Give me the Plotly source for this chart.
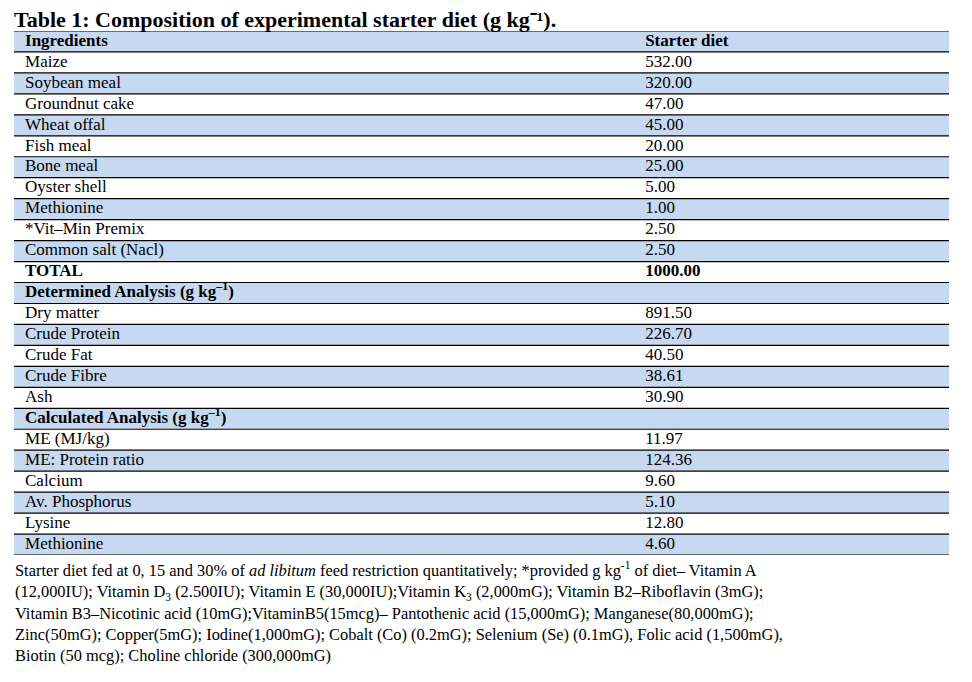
import plotly.graph_objects as go

# Datos de la tabla
ingredients = ["Maize", "Soybean meal", "Groundnut cake", "Wheat offal", "Fish meal",
               "Bone meal", "Oyster shell", "Methionine", "*Vit\u2013Min Premix", "Common salt (Nacl)"]
ingredient_amounts = ["532.00", "320.00", "47.00", "45.00", "20.00",
                      "25.00", "5.00", "1.00", "2.50", "2.50"]
total_label = "TOTAL"
total_amount = "1000.00"

determined_items = ["Dry matter", "Crude Protein", "Crude Fat", "Crude Fibre", "Ash"]
determined_values = ["891.50", "226.70", "40.50", "38.61", "30.90"]

calculated_items = ["ME (MJ/kg)", "ME: Protein ratio", "Calcium", "Av. Phosphorus", "Lysine", "Methionine"]
calculated_values = ["11.97", "124.36", "9.60", "5.10", "12.80", "4.60"]

header_labels = ["Ingredients", "Starter diet"]
title_text = "Table 1: Composition of experimental starter diet (g kg\u207b\u00b9)."
footnote_lines = [
    "Starter diet fed at 0, 15 and 30% of <i>ad libitum</i> feed restriction quantitatively; *provided g kg<sup>-1</sup> of diet\u2013 Vitamin A",
    "(12,000IU); Vitamin D<sub>3</sub> (2.500IU); Vitamin E (30,000IU);Vitamin K<sub>3</sub> (2,000mG); Vitamin B2\u2013Riboflavin (3mG);",
    "Vitamin B3\u2013Nicotinic acid (10mG);VitaminB5(15mcg)\u2013 Pantothenic acid (15,000mG); Manganese(80,000mG);",
    "Zinc(50mG); Copper(5mG); Iodine(1,000mG); Cobalt (Co) (0.2mG); Selenium (Se) (0.1mG), Folic acid (1,500mG),",
    "Biotin (50 mcg); Choline chloride (300,000mG)",
]

# Construir columnas
col_a = (["<b>" + header_labels[0] + "</b>"] + ingredients + ["<b>" + total_label + "</b>"]
         + ["<b>Determined Analysis (g kg<sup>\u20131</sup>)</b>"] + determined_items
         + ["<b>Calculated Analysis (g kg<sup>\u20131</sup>)</b>"] + calculated_items)
col_b = (["<b>" + header_labels[1] + "</b>"] + ingredient_amounts + ["<b>" + total_amount + "</b>"]
         + [""] + determined_values
         + [""] + calculated_values)
rows = list(range(len(col_a)))

BLUE = "#C6D9F0"
OFF = 8  # margen del body de la pagina html
W, H = 972 - OFF, 682 - OFF
FONT = "Liberation Serif"


def px(x):
    return (x - OFF) / W


def py(y):
    return 1 - (y - OFF) / H


fills = [BLUE if i % 2 == 0 else "white" for i in rows]

fig = go.Figure()
fig.add_trace(go.Bar(x=[1] * len(rows), y=rows, orientation="h", width=1, base=0,
                     marker=dict(color=fills, line=dict(width=0)), hoverinfo="skip"))
fig.add_trace(go.Scatter(x=[0.0118] * len(rows), y=rows, mode="text", text=col_a,
                         textposition="middle right", hoverinfo="skip",
                         textfont=dict(family=FONT, size=17, color="black")))
fig.add_trace(go.Scatter(x=[0.675] * len(rows), y=rows, mode="text", text=col_b,
                         textposition="middle right", hoverinfo="skip",
                         textfont=dict(family=FONT, size=17, color="black")))

# lineas horizontales de la tabla
for i in range(len(rows) + 1):
    fig.add_shape(type="line", xref="x", yref="y", x0=0, x1=1, y0=i - 0.5, y1=i - 0.5,
                  line=dict(color="black", width=1.2))

fig.add_annotation(text="<b>" + title_text + "</b>", xref="paper", yref="paper",
                   x=px(13), y=py(19.5), xanchor="left", yanchor="middle", showarrow=False,
                   borderpad=0, font=dict(family=FONT, size=22, color="black"))
fig.add_annotation(text="<br>".join(footnote_lines), xref="paper", yref="paper",
                   x=px(13), y=py(557), xanchor="left", yanchor="top",
                   showarrow=False, align="left",
                   font=dict(family=FONT, size=16.4, color="black"))

fig.update_xaxes(range=[0, 1], domain=[px(14), px(949)], visible=False, fixedrange=True)
fig.update_yaxes(range=[len(rows) - 0.5, -0.5], domain=[py(555), py(31)], visible=False,
                 fixedrange=True)
fig.update_layout(width=W, height=H, margin=dict(l=0, r=0, t=0, b=0), showlegend=False,
                  paper_bgcolor="white", plot_bgcolor="white", bargap=0)
fig.write_html("out.html")
